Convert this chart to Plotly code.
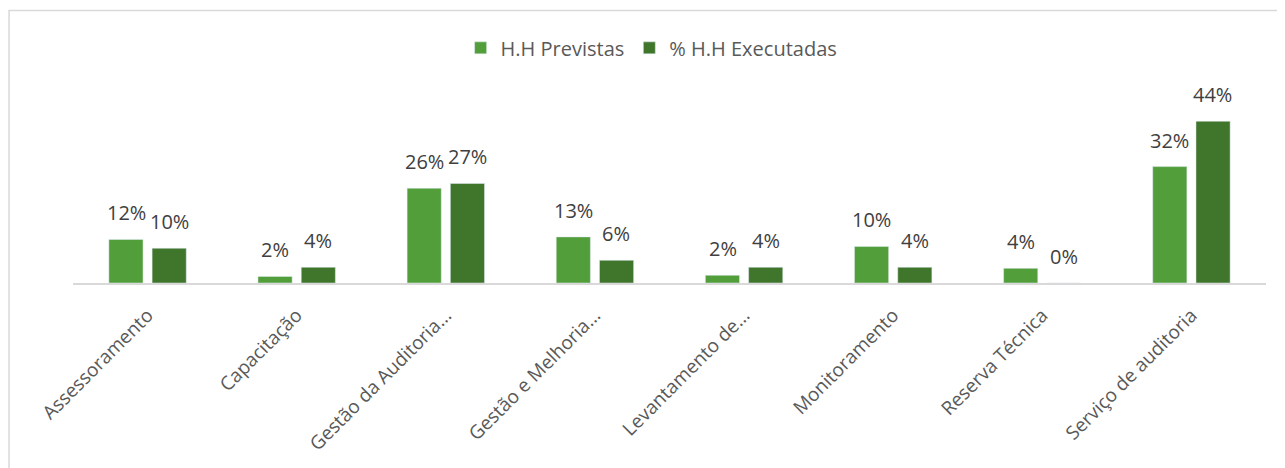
import plotly.graph_objects as go

categorias = ["Assessoramento", "Capacitação", "Gestão da Auditoria...", "Gestão e Melhoria...",
              "Levantamento de...", "Monitoramento", "Reserva Técnica", "Serviço de auditoria"]
hh_previstas = [11.9, 1.8, 25.9, 12.6, 2.1, 10.0, 4.0, 31.8]
hh_executadas = [9.5, 4.3, 27.2, 6.2, 4.3, 4.3, 0.0, 44.2]
rotulos_previstas = ["12%", "2%", "26%", "13%", "2%", "10%", "4%", "32%"]
rotulos_executadas = ["10%", "4%", "27%", "6%", "4%", "4%", "0%", "44%"]

verde = "#529E3A"
verde_escuro = "#40762C"
fonte = "Open Sans"

fig = go.Figure()
fig.add_trace(go.Bar(x=categorias, y=hh_previstas, name="H.H Previstas",
                     marker=dict(color=verde)))
fig.add_trace(go.Bar(x=categorias, y=hh_executadas, name="% H.H Executadas",
                     marker=dict(color=verde_escuro)))

# rotulos de dados acima das barras
for serie, rotulos, desloc in [(hh_previstas, rotulos_previstas, -21.5),
                               (hh_executadas, rotulos_executadas, 21.5)]:
    for cat, v, txt in zip(categorias, serie, rotulos):
        fig.add_annotation(x=cat, y=v, text=txt, showarrow=False,
                           xshift=desloc, yshift=11, yanchor="bottom",
                           font=dict(family=fonte, size=20, color="#404040"))

# moldura do grafico
fig.add_shape(type="rect", xref="paper", yref="paper",
              x0=-0.0536, x1=1.2, y0=-2, y1=1.489,
              line=dict(color="#D9D9D9", width=1.5), fillcolor="rgba(0,0,0,0)", layer="below")

# a pagina tem margem de 8px no body, por isso 1277x460
fig.update_layout(
    width=1277, height=460,
    margin=dict(l=65, r=19, t=92, b=182),
    plot_bgcolor="#fff", paper_bgcolor="#fff",
    barmode="group", bargap=0.42, bargroupgap=0.21,
    font=dict(family=fonte, color="#595959"),
    legend=dict(orientation="h", x=0.485, xanchor="center", y=1.285, yanchor="middle",
                font=dict(size=20, color="#595959"), itemwidth=30),
    showlegend=True,
)
fig.update_xaxes(showline=True, linecolor="#D9D9D9", linewidth=1.5, showgrid=False,
                 tickangle=-45, tickfont=dict(size=19, color="#595959"),
                 ticks="", ticklabelstandoff=12)
fig.update_yaxes(range=[0, 50], visible=False, showgrid=False, zeroline=False)

fig.write_html("out.html")
